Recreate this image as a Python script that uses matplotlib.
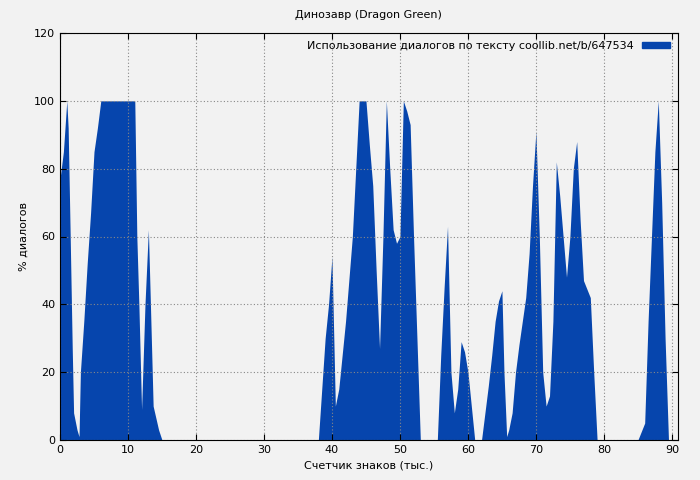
import matplotlib
matplotlib.use("Agg")
import matplotlib.pyplot as plt
from matplotlib.patches import Patch

xs = [0,0.5,1,1.2,1.5,1.8,2,2.5,2.8,3,3.5,4,4.5,5,5.5,6,11,11.3,11.6,12,12.5,13,13.3,13.7,14.5,15,
      38,38.5,39,39.5,40,40.5,41,42,43,43.5,44,45,45.5,46,46.5,47,47.5,48,48.5,49,49.5,50,50.5,51,51.5,52,52.5,53,
      55.5,56,56.5,57,57.5,58,58.5,59,59.5,60,60.5,61,62,62.5,63,63.5,64,64.5,65,65.3,65.7,66,66.5,67,67.5,68,68.5,
      69,69.5,70,70.5,71,71.5,72,72.5,73,73.5,74,74.5,75,75.5,76,76.5,77,78,78.5,79,85,86,86.5,87,87.5,88,88.5,89,89.5]
ys = [77,85,100,92,60,27,8,3,1,20,35,52,67,85,92,100,100,60,40,9,40,62,40,10,3,0,
      0,15,30,40,54,10,15,35,60,80,100,100,87,75,50,27,60,100,80,62,58,60,100,97,93,60,30,0,
      0,25,45,63,20,8,15,29,26,20,10,0,0,8,16,25,35,41,44,20,1,3,8,20,28,35,42,
      55,75,91,60,20,10,13,35,82,72,60,48,60,80,88,65,47,42,20,0,0,5,35,60,85,100,70,30,0]

color = '#0645ad'
fig = plt.figure(figsize=(7, 4.8), dpi=100, facecolor='#f2f2f2')
ax = fig.add_axes([60/700, 40/480, 618/700, 407/480])
ax.set_facecolor('#f2f2f2')
ax.fill_between(xs, ys, 0, color=color, lw=0)
ax.set_xlim(0, 90.9)
ax.set_ylim(0, 120)
ax.set_xticks(range(0, 91, 10))
ax.set_yticks(range(0, 121, 20))
ax.grid(True, color='#888888', linestyle=(0, (1, 2)), lw=0.8)
ax.tick_params(labelsize=8, direction='in', length=4, top=True, right=True)
ax.set_xlabel('Счетчик знаков (тыс.)', fontsize=8)
ax.set_ylabel('% диалогов', fontsize=8)
fig.text(0.527, 0.963, 'Динозавр (Dragon Green)', ha='center', fontsize=8)
ax.legend(handles=[Patch(color=color)], labels=['Использование диалогов по тексту coollib.net/b/647534'],
          loc='upper right', fontsize=8, frameon=False, handlelength=2.5, handleheight=0.4,
          markerfirst=False, borderaxespad=0.3)
fig.savefig('out.png', dpi=100, facecolor='#f2f2f2')
